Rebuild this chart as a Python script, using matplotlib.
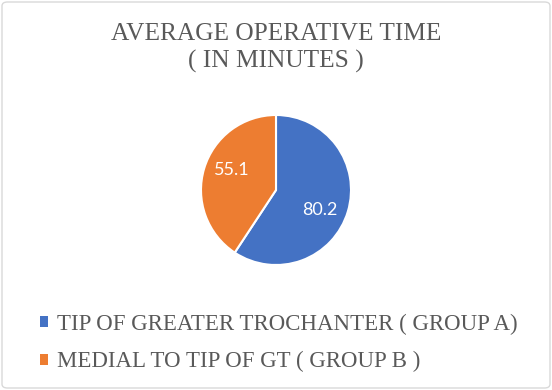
import numpy as np
import matplotlib.pyplot as plt
from matplotlib.patches import FancyBboxPatch

labels = ['TIP OF GREATER TROCHANTER ( GROUP A)', 'MEDIAL TO TIP OF GT ( GROUP B )']
values = [80.2, 55.1]
colors = ['#4472C4', '#ED7D31']
title_lines = ['AVERAGE OPERATIVE TIME', '( IN MINUTES )']

W, H = 552, 390
fig = plt.figure(figsize=(W / 100, H / 100), dpi=100)

# rounded light border like the office chart frame
fig.patches.append(FancyBboxPatch((2 / W, 2 / H), 1 - 4 / W, 1 - 4 / H,
                                  boxstyle='round,pad=0,rounding_size=0.01',
                                  transform=fig.transFigure, fill=False,
                                  edgecolor='#D9D9D9', linewidth=1))

serif = ['Liberation Serif', 'DejaVu Serif']
fig.text(0.5, 1 - 34 / H, title_lines[0], ha='center', va='center',
         fontsize=18.3, color='#595959', family=serif)
fig.text(0.5, 1 - 61 / H, title_lines[1], ha='center', va='center',
         fontsize=18.3, color='#595959', family=serif)

ax = fig.add_axes([201 / W, 125 / H, 150 / W, 150 / H])
wedges, _, autotexts = ax.pie(values, colors=colors, startangle=90, counterclock=False,
                              autopct=lambda p: '{:.1f}'.format(p * sum(values) / 100),
                              pctdistance=0.645,
                              wedgeprops=dict(edgecolor='white', linewidth=1.5),
                              textprops=dict(color='white', fontsize=13, family=['Lato', 'DejaVu Sans']))
# office places the labels a little before the mid angle
for w, t in zip(wedges, autotexts):
    a = np.deg2rad((w.theta1 + w.theta2) / 2 - 8)
    t.set_position((0.645 * np.cos(a), 0.645 * np.sin(a)))
ax.set_xlim(-1, 1)
ax.set_ylim(-1, 1)
ax.set_aspect('equal')

fig.legend(wedges, labels, loc='center left', bbox_to_anchor=(40 / W, 1 - 343 / H),
           frameon=False, borderpad=0, borderaxespad=0,
           handlelength=0.36, handleheight=0.36, handletextpad=0.4,
           labelspacing=0.72, prop=dict(family=serif, size=16.5), labelcolor='#595959')
for h in fig.legends[0].legend_handles:
    h.set_edgecolor('none')

fig.savefig('out.png', dpi=100)
